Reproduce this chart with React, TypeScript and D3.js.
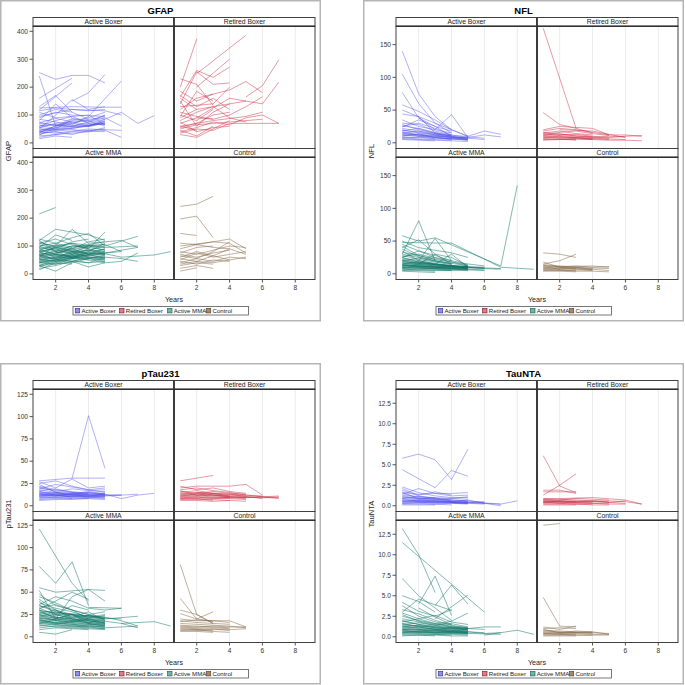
import React from "react";
import * as d3 from "d3";

// groups / legend
const groups = ["Active Boxer", "Retired Boxer", "Active MMA", "Control"];
const lineColors = ["rgb(80,80,235)", "rgb(200,30,55)", "rgb(10,115,100)", "rgb(130,100,65)"];
const lineOpacity = [0.45, 0.45, 0.5, 0.5];
const swatchFill = ["#8f8ff0", "#e07a88", "#6fb3aa", "#a58a6a"];
const swatchStroke = ["#3a3a9a", "#8a2030", "#1f6a60", "#5a4530"];
const xTicks = [2, 4, 6, 8];

// each trajectory: [year, value, year, value, ...]
const gfapActiveBoxer = [
  [1, 252, 2, 228], [1, 240, 2, 60, 3, 75], [1, 160, 3, 232], [1, 118, 3, 215],
  [2, 228, 3, 242, 4, 242, 5, 215], [3, 150, 4, 180, 5, 245], [4, 95, 6, 222],
  [4, 60, 6, 110, 7, 70, 8, 98], [5, 45, 6, 20], [1, 125, 3, 130, 5, 128, 6, 128],
  [1, 60, 2, 80, 3, 95, 4, 70, 5, 85], [1, 40, 3, 55, 5, 70], [1, 30, 2, 45, 4, 60, 5, 75],
  [1, 90, 2, 110, 3, 100, 5, 95], [1, 75, 2, 60, 3, 80, 4, 90, 5, 110], [1, 20, 2, 30, 3, 40, 5, 50],
  [1, 50, 2, 100, 3, 155, 4, 120, 5, 130], [1, 110, 2, 90, 4, 100, 5, 65], [1, 35, 2, 40, 3, 30, 4, 45, 5, 40],
  [1, 70, 3, 60, 5, 90, 6, 60], [1, 45, 2, 55, 3, 70, 4, 60, 5, 80], [1, 100, 2, 120, 3, 110, 4, 85],
  [1, 55, 2, 70, 4, 80, 5, 60], [1, 25, 3, 35, 5, 45], [1, 85, 2, 75, 3, 65, 4, 95],
  [1, 65, 2, 50, 3, 85, 4, 75, 5, 100], [1, 15, 2, 25, 3, 20], [1, 130, 2, 170, 3, 110],
  [1, 40, 2, 35, 4, 50, 6, 45], [1, 95, 3, 120, 5, 115, 6, 100], [1, 80, 2, 140, 3, 90],
  [1, 28, 2, 55, 3, 62, 4, 58, 5, 72], [1, 50, 2, 42, 3, 48, 4, 40, 5, 55], [1, 60, 2, 65, 3, 58, 5, 68],
  [1, 115, 2, 125, 4, 115, 5, 120], [1, 38, 2, 60, 3, 88, 4, 80, 5, 98], [1, 72, 2, 88, 3, 75, 4, 65, 5, 70],
  [1, 45, 2, 50, 3, 60, 4, 70, 5, 65], [1, 55, 2, 48, 3, 52, 4, 62, 5, 78], [1, 35, 2, 62, 3, 70, 4, 85, 5, 90],
];
const gfapRetiredBoxer = [
  [1, 200, 2, 372], [2, 248, 5, 386], [2, 200, 4, 300], [1, 165, 2, 260, 3, 235, 4, 272],
  [5, 165, 6, 205, 7, 298], [6, 140, 7, 218], [4, 70, 7, 70], [1, 230, 2, 210, 3, 135],
  [1, 140, 2, 255, 3, 210, 4, 215], [1, 90, 2, 120, 4, 140, 5, 150], [1, 60, 3, 80, 5, 95, 6, 110],
  [1, 45, 2, 25, 3, 60], [1, 150, 2, 60, 3, 110, 4, 140], [1, 120, 2, 160, 4, 190, 5, 220, 6, 180],
  [1, 70, 2, 90, 3, 85, 4, 100, 5, 130, 6, 165], [1, 30, 2, 20, 3, 50, 4, 80], [1, 170, 2, 130, 3, 160, 4, 120],
  [1, 55, 2, 70, 3, 100, 4, 110], [1, 100, 2, 80, 3, 120], [1, 80, 2, 110, 3, 130, 4, 90, 5, 75],
  [1, 40, 2, 55, 3, 75, 4, 65, 5, 90, 6, 100, 7, 70], [1, 185, 2, 150, 3, 175], [1, 130, 3, 140, 4, 200],
  [1, 60, 2, 45], [2, 90, 4, 160, 6, 140], [1, 50, 2, 65, 3, 70, 4, 75, 5, 80, 6, 85], [1, 110, 2, 95, 3, 85],
  [1, 75, 2, 40, 3, 55, 4, 60], [1, 160, 2, 120], [1, 35, 2, 50, 3, 45, 4, 70], [1, 95, 2, 185, 3, 150],
];
const gfapActiveMMA = [
  [1, 215, 2, 238], [1, 120, 2, 160, 3, 150, 4, 140, 5, 120], [1, 60, 2, 100, 3, 160, 4, 110],
  [5, 100, 7, 135], [4, 110, 6, 120, 7, 95], [6, 60, 8, 68, 9, 80], [5, 40, 6, 45, 7, 75],
  [1, 30, 2, 10, 3, 40], [1, 120, 2, 80, 3, 90, 4, 70, 5, 90], [1, 100, 2, 110, 3, 130, 4, 145, 5, 100],
  [1, 90, 2, 70, 3, 60, 4, 80, 5, 110], [1, 80, 2, 60, 3, 70, 4, 90, 5, 150], [1, 75, 2, 95, 3, 80, 4, 60, 5, 55],
  [1, 70, 2, 50, 3, 65, 4, 55, 5, 45], [1, 65, 2, 85, 3, 100, 4, 95, 5, 85], [1, 55, 2, 45, 3, 50, 4, 40, 5, 60],
  [1, 50, 2, 65, 3, 75, 4, 100, 5, 95], [1, 45, 2, 35, 3, 55, 4, 65, 5, 70], [1, 40, 2, 55, 3, 45, 4, 25, 5, 40],
  [1, 35, 2, 40, 3, 60, 4, 75, 5, 65], [1, 30, 2, 50, 3, 40, 4, 55, 5, 50], [1, 25, 2, 45, 3, 55, 4, 50],
  [1, 20, 2, 30, 3, 45, 4, 60], [1, 15, 2, 40, 3, 35], [1, 110, 2, 125, 3, 105, 4, 90],
  [1, 105, 2, 90, 3, 115, 4, 125], [1, 95, 2, 140, 3, 120], [1, 85, 2, 105, 3, 90, 4, 115, 5, 125],
  [1, 115, 2, 95, 3, 80, 4, 75, 5, 70], [1, 125, 2, 110, 3, 95], [1, 60, 2, 75, 3, 85, 4, 70, 5, 75, 6, 80],
  [1, 70, 2, 80, 3, 100, 5, 105, 6, 80], [1, 50, 2, 60, 3, 55, 5, 60, 6, 55, 7, 45], [1, 90, 3, 110, 5, 95, 7, 100],
  [1, 40, 3, 60, 5, 75, 7, 95], [2, 75, 4, 85, 6, 60], [1, 80, 2, 90, 3, 70, 4, 60, 5, 50],
  [1, 65, 2, 55, 3, 75, 4, 85, 5, 100], [1, 100, 2, 80, 3, 60, 4, 50, 5, 40], [1, 55, 2, 70, 3, 95, 4, 105, 5, 115],
  [1, 45, 2, 60, 3, 80, 4, 95], [1, 75, 2, 65, 3, 55, 4, 70, 5, 80],
  [1, 85, 2, 70, 3, 65, 4, 80, 5, 70], [1, 60, 2, 55, 3, 65, 4, 75, 5, 90], [1, 95, 2, 85, 3, 75, 4, 65, 5, 60],
  [1, 50, 2, 45, 3, 60, 4, 70, 5, 55], [1, 70, 2, 75, 3, 90, 4, 100, 5, 85], [1, 40, 2, 50, 3, 70, 4, 85, 5, 80],
  [1, 110, 2, 100, 3, 85, 4, 100, 5, 105], [1, 30, 2, 35, 3, 45, 4, 40, 5, 45], [1, 65, 2, 70, 3, 60, 4, 55, 5, 65],
  [1, 80, 2, 95, 3, 110, 4, 90, 5, 75],
];
const gfapControl = [
  [1, 242, 2, 250, 3, 278], [1, 197, 2, 207, 3, 130], [1, 145, 2, 138], [1, 110, 2, 105, 4, 125, 5, 90],
  [1, 100, 3, 115, 4, 110, 5, 75], [1, 20, 2, 30, 3, 20], [1, 10, 2, 22], [1, 60, 2, 80, 4, 50, 5, 60],
  [1, 90, 2, 105, 3, 95, 4, 90], [1, 80, 2, 70, 3, 85, 4, 100, 5, 95], [1, 70, 2, 60, 3, 75, 4, 85],
  [1, 50, 2, 75, 3, 60, 4, 70, 5, 80], [1, 40, 2, 55, 3, 45, 4, 60, 5, 55], [1, 35, 2, 45, 3, 40, 4, 50],
  [1, 65, 2, 55, 3, 80, 4, 115], [1, 30, 2, 40, 3, 35], [1, 55, 2, 45, 3, 65, 4, 90, 5, 70],
  [1, 75, 2, 95, 3, 100], [1, 45, 2, 35, 3, 50, 4, 45],
];

const nflActiveBoxer = [
  [1, 140, 2, 75, 3, 40, 4, 20, 5, 10], [1, 105, 2, 60, 3, 30, 4, 15], [1, 77, 2, 38, 3, 25, 4, 10],
  [1, 58, 2, 48, 3, 35, 4, 20], [1, 50, 2, 40, 3, 15, 4, 12], [2, 38, 3, 20, 4, 43, 5, 8],
  [5, 10, 6, 18, 7, 13], [5, 8, 6, 12, 7, 9], [1, 44, 2, 40, 3, 30, 4, 20, 5, 10], [1, 35, 2, 25, 3, 20, 4, 15],
  [1, 30, 2, 28, 3, 18, 4, 12, 5, 8], [1, 28, 2, 20, 3, 15, 4, 10, 5, 7], [1, 25, 2, 30, 3, 22, 4, 12],
  [1, 22, 2, 18, 3, 14, 4, 10, 5, 6], [1, 20, 2, 15, 3, 12, 4, 9, 5, 5], [1, 18, 2, 22, 3, 16, 4, 10],
  [1, 16, 2, 12, 3, 10, 4, 8, 5, 6], [1, 14, 2, 18, 3, 12, 4, 7], [1, 12, 2, 10, 3, 9, 4, 6, 5, 4],
  [1, 10, 2, 14, 3, 8, 4, 5], [1, 9, 2, 8, 3, 7, 4, 6, 5, 5], [1, 8, 2, 6, 3, 5, 4, 4], [1, 7, 2, 9, 3, 6],
  [1, 6, 2, 5, 3, 4, 4, 3, 5, 2], [1, 5, 2, 4, 3, 3], [1, 15, 2, 10, 3, 8, 4, 6, 5, 9, 6, 7],
  [1, 24, 2, 35, 3, 25, 4, 18], [1, 11, 2, 13, 3, 11, 4, 9, 5, 8], [1, 19, 2, 16, 3, 13, 4, 11, 5, 10],
  [1, 13, 3, 10, 5, 7, 6, 5], [1, 26, 2, 22, 3, 14, 4, 8, 5, 5], [1, 17, 2, 12, 3, 8, 4, 6, 5, 4],
];
const nflRetiredBoxer = [
  [1, 175, 3, 22], [1, 46, 2, 28, 3, 22, 4, 15], [1, 20, 2, 25, 4, 22, 5, 12, 6, 12, 7, 10],
  [1, 18, 2, 22, 3, 20, 4, 16, 5, 12], [1, 15, 2, 18, 3, 14, 4, 12], [1, 12, 2, 14, 3, 10, 4, 9, 5, 7],
  [1, 10, 2, 9, 3, 8, 4, 7, 5, 6, 6, 5], [1, 8, 2, 10, 3, 7, 4, 6], [1, 6, 2, 5, 3, 6, 4, 5, 5, 4, 6, 4, 7, 3],
  [1, 5, 2, 6, 3, 4], [1, 14, 2, 11, 3, 9, 4, 8, 5, 10, 6, 9], [1, 11, 2, 12, 3, 13, 4, 10, 5, 8, 6, 10, 7, 11],
  [1, 9, 2, 7, 3, 8, 4, 6, 5, 5], [1, 7, 2, 8, 3, 6, 4, 5], [1, 16, 2, 13, 3, 11, 4, 9],
  [1, 13, 2, 16, 3, 18, 4, 14, 5, 11], [1, 4, 2, 5, 3, 5], [2, 20, 4, 18, 6, 8],
];
const nflActiveMMA = [
  [1, 58, 2, 50, 3, 55, 7, 12, 8, 135], [1, 30, 2, 81, 3, 20], [1, 48, 3, 47, 4, 47, 7, 10],
  [1, 50, 2, 40, 4, 32, 5, 25], [7, 10, 9, 7], [1, 45, 2, 35, 3, 25, 4, 20], [1, 40, 2, 52, 3, 30, 4, 15],
  [1, 35, 2, 20, 3, 15, 4, 30, 5, 10], [1, 33, 2, 28, 3, 22, 4, 18, 5, 14], [1, 30, 2, 25, 3, 20, 4, 16, 5, 12],
  [1, 28, 2, 22, 3, 18, 4, 14], [1, 26, 2, 30, 3, 24, 4, 18, 5, 12], [1, 24, 2, 20, 3, 16, 4, 12, 5, 10],
  [1, 22, 2, 18, 3, 15, 4, 12, 5, 9], [1, 20, 2, 24, 3, 19, 4, 15], [1, 19, 2, 15, 3, 13, 4, 11, 5, 9],
  [1, 18, 2, 16, 3, 14, 4, 12, 5, 10, 6, 9], [1, 16, 2, 14, 3, 12, 4, 10, 5, 8], [1, 15, 2, 18, 3, 14, 4, 12, 5, 11],
  [1, 14, 2, 12, 3, 10, 4, 9, 5, 8], [1, 13, 2, 11, 3, 10, 4, 8, 5, 7, 6, 6], [1, 12, 2, 13, 3, 11, 4, 9, 5, 8],
  [1, 11, 2, 10, 3, 9, 4, 8, 5, 7], [1, 10, 2, 12, 3, 10, 4, 9, 5, 10, 6, 8], [1, 9, 2, 8, 3, 8, 4, 7, 5, 6],
  [1, 8, 2, 9, 3, 7, 4, 6], [1, 7, 2, 6, 3, 6, 4, 5, 5, 5], [1, 6, 2, 7, 3, 5, 4, 5], [1, 5, 2, 5, 3, 4],
  [1, 4, 2, 3, 3, 2], [1, 25, 2, 35, 3, 28, 4, 20, 5, 15, 6, 12], [1, 38, 2, 26, 3, 20, 4, 16],
  [1, 17, 3, 12, 5, 10, 7, 8], [1, 21, 2, 17, 3, 14, 4, 13, 5, 11, 6, 10], [1, 12, 2, 15, 3, 30, 4, 25, 5, 12],
  [1, 9, 2, 11, 3, 10, 4, 12, 5, 9, 6, 8, 7, 7], [1, 14, 2, 10, 3, 8, 4, 7, 5, 6, 6, 5], [2, 20, 3, 54, 4, 20],
  [1, 42, 2, 28, 3, 22], [1, 15, 2, 12, 3, 11, 4, 10, 5, 9], [1, 20, 2, 16, 3, 14, 4, 12, 5, 11],
  [1, 10, 2, 9, 3, 8, 4, 8, 5, 7], [1, 25, 2, 18, 3, 15, 4, 12, 5, 10],
];
const nflControl = [
  [1, 32, 2, 30, 3, 25], [1, 15, 2, 20, 3, 30], [1, 10, 4, 12, 5, 10], [1, 14, 2, 12, 3, 10, 4, 8],
  [1, 12, 2, 10, 3, 9, 4, 9, 5, 8], [1, 9, 2, 8, 3, 7, 4, 6], [1, 8, 2, 9, 3, 8, 4, 7, 5, 5],
  [1, 7, 2, 6, 3, 6, 4, 5], [1, 6, 2, 5, 3, 5], [1, 5, 2, 6, 3, 4, 4, 4, 5, 3], [1, 4, 2, 4, 3, 3],
  [1, 11, 2, 7, 3, 10, 4, 6], [1, 13, 2, 11, 3, 12, 4, 10, 5, 11], [1, 18, 2, 10, 3, 8],
];

const ptauActiveBoxer = [
  [1, 28, 3, 31, 4, 101, 5, 42], [3, 31, 5, 31], [5, 13, 6, 8, 7, 12, 8, 14], [1, 27, 2, 20, 3, 30, 4, 20, 5, 22],
  [1, 25, 2, 28, 3, 22, 4, 18, 5, 15], [1, 22, 2, 18, 3, 16, 4, 14, 5, 12], [1, 20, 2, 17, 3, 15, 4, 13, 5, 14],
  [1, 18, 2, 15, 3, 14, 4, 16, 5, 13], [1, 17, 2, 19, 3, 15, 4, 12, 5, 11], [1, 16, 2, 14, 3, 13, 4, 12, 5, 12, 6, 12],
  [1, 15, 2, 13, 3, 12, 4, 11, 5, 10], [1, 14, 2, 15, 3, 14, 4, 13, 5, 14], [1, 13, 2, 12, 3, 11, 4, 10, 5, 11],
  [1, 12, 2, 14, 3, 13, 4, 12, 5, 13], [1, 11, 2, 12, 3, 10, 4, 9, 5, 10], [1, 10, 2, 9, 3, 11, 4, 10, 5, 9],
  [1, 9, 2, 10, 3, 9, 4, 8], [1, 8, 2, 9, 3, 8, 4, 9, 5, 8], [1, 7, 2, 8, 3, 7, 4, 8, 5, 7], [1, 6, 2, 7, 3, 8],
  [1, 24, 2, 15, 3, 12, 4, 14], [1, 19, 2, 24, 3, 21, 4, 18, 5, 20], [1, 13, 2, 11, 3, 14, 4, 15, 5, 12, 6, 12],
  [1, 12, 3, 10, 5, 11, 6, 12, 7, 13], [1, 16, 2, 12, 3, 10, 4, 13], [1, 11, 2, 13, 3, 12, 4, 11, 5, 13],
  [1, 14, 2, 12, 3, 13, 4, 15, 5, 16], [1, 21, 2, 16, 3, 19, 4, 17, 5, 18], [1, 10, 2, 11, 3, 12, 4, 11, 5, 12],
];
const ptauRetiredBoxer = [
  [1, 28, 3, 34], [1, 20, 2, 22, 4, 22, 5, 24, 6, 12], [1, 8, 6, 10, 7, 8], [1, 22, 2, 18, 3, 20, 4, 16, 5, 14],
  [1, 18, 2, 20, 3, 17, 4, 15, 5, 12, 6, 11], [1, 16, 2, 14, 3, 13, 4, 12, 5, 11],
  [1, 15, 2, 17, 3, 14, 4, 13, 5, 12, 6, 10, 7, 11], [1, 14, 2, 12, 3, 11, 4, 10, 5, 9],
  [1, 13, 2, 15, 3, 12, 4, 11, 5, 10, 6, 9, 7, 10], [1, 12, 2, 11, 3, 10, 4, 9, 5, 8], [1, 11, 2, 13, 3, 12, 4, 10],
  [1, 10, 2, 9, 3, 9, 4, 8, 5, 7], [1, 9, 2, 10, 3, 8, 4, 9], [1, 8, 2, 7, 3, 7, 4, 6], [1, 7, 2, 8, 3, 6],
  [1, 6, 2, 6, 3, 5, 4, 6, 5, 5], [1, 17, 2, 12, 3, 14, 4, 11], [1, 12, 2, 14, 3, 16, 4, 14, 5, 13],
  [1, 10, 3, 12, 5, 9, 6, 10, 7, 9], [2, 15, 4, 13, 6, 8],
];
const ptauActiveMMA = [
  [1, 121, 3, 60, 4, 40], [1, 79, 2, 60, 3, 84, 4, 35], [1, 55, 2, 50, 4, 53, 5, 52], [1, 52, 2, 20, 3, 45, 4, 53, 5, 40],
  [4, 33, 6, 32], [5, 20, 7, 23], [6, 15, 8, 17, 9, 12], [5, 10, 7, 12], [1, 45, 2, 38, 3, 30, 4, 25, 5, 20],
  [1, 42, 2, 30, 3, 22, 4, 28, 5, 18], [1, 40, 2, 25, 3, 35, 4, 30], [1, 38, 2, 32, 3, 28, 4, 22, 5, 25],
  [1, 35, 2, 28, 3, 25, 4, 20, 5, 15], [1, 33, 2, 36, 3, 30, 4, 25, 5, 28], [1, 32, 2, 25, 3, 20, 4, 18, 5, 16],
  [1, 30, 2, 26, 3, 22, 4, 24, 5, 20], [1, 28, 2, 22, 3, 18, 4, 16, 5, 14], [1, 26, 2, 30, 3, 25, 4, 22, 5, 20],
  [1, 25, 2, 20, 3, 17, 4, 15, 5, 13], [1, 24, 2, 18, 3, 22, 4, 19, 5, 17], [1, 22, 2, 25, 3, 20, 4, 18, 5, 16],
  [1, 21, 2, 18, 3, 16, 4, 14, 5, 12], [1, 20, 2, 22, 3, 19, 4, 17, 5, 15], [1, 19, 2, 16, 3, 14, 4, 13, 5, 11],
  [1, 18, 2, 20, 3, 18, 4, 16, 5, 14], [1, 17, 2, 15, 3, 13, 4, 12, 5, 10], [1, 16, 2, 18, 3, 15, 4, 14, 5, 13],
  [1, 15, 2, 13, 3, 12, 4, 11, 5, 9], [1, 14, 2, 16, 3, 14, 4, 12, 5, 11], [1, 13, 2, 11, 3, 10, 4, 9, 5, 8],
  [1, 12, 2, 14, 3, 12, 4, 11], [1, 10, 2, 12, 3, 11, 4, 10, 5, 9], [1, 8, 2, 10, 3, 9, 4, 8], [1, 5, 2, 3, 3, 8],
  [1, 36, 2, 45, 3, 40, 4, 32, 5, 30, 6, 32], [1, 29, 3, 25, 5, 22, 6, 18, 7, 12], [1, 23, 2, 28, 4, 20, 6, 15, 7, 10],
  [1, 31, 2, 40, 3, 50, 4, 42], [1, 48, 2, 35, 3, 30, 4, 20], [1, 27, 2, 24, 3, 26, 4, 23, 5, 21, 6, 20],
  [1, 20, 2, 15, 3, 18, 4, 22, 5, 19], [1, 25, 2, 22, 3, 20, 4, 24, 5, 22], [1, 30, 2, 20, 3, 25, 4, 18, 5, 15],
  [1, 18, 2, 14, 3, 17, 4, 20, 5, 18], [1, 22, 2, 19, 3, 16, 4, 20, 5, 24], [1, 15, 2, 20, 3, 25, 4, 15, 5, 12],
  [1, 35, 2, 30, 3, 20, 4, 15, 5, 22],
];
const ptauControl = [
  [1, 81, 2, 25, 3, 15], [1, 43, 2, 20, 3, 28], [1, 30, 2, 25, 3, 15], [1, 20, 2, 18, 4, 18, 5, 11],
  [1, 18, 2, 16, 3, 15, 4, 14], [1, 15, 2, 14, 3, 13, 4, 12, 5, 10], [1, 13, 2, 12, 3, 11, 4, 10],
  [1, 12, 2, 11, 3, 12, 4, 11, 5, 11], [1, 11, 2, 10, 3, 10, 4, 9], [1, 10, 2, 9, 3, 8, 4, 8, 5, 9],
  [1, 9, 2, 8, 3, 9, 4, 7], [1, 8, 2, 7, 3, 7], [1, 7, 2, 8, 3, 6, 4, 5], [1, 6, 2, 6, 3, 5],
  [1, 26, 2, 20, 3, 17], [1, 17, 2, 19, 3, 18, 4, 16],
];

const tauActiveBoxer = [
  [1, 5.8, 2, 6.3, 3, 5.6, 4, 3.2, 5, 6.9], [1, 4.4, 2, 3.3, 3, 2.2, 4, 4.3, 5, 3.6],
  [1, 2.3, 2, 1.6, 3, 1.2, 4, 1.0, 5, 1.0], [1, 2.1, 2, 1.3, 3, 1.7, 4, 1.3], [1, 1.9, 2, 1.2, 3, 0.9, 4, 0.7, 5, 0.6],
  [1, 1.6, 2, 1.4, 3, 1.5, 4, 1.5, 5, 1.6], [1, 1.5, 2, 1.0, 3, 0.8, 4, 0.6], [1, 1.3, 2, 1.1, 3, 1.0, 4, 0.9, 5, 0.8],
  [1, 1.2, 2, 0.9, 3, 0.8, 4, 0.9, 5, 1.1], [1, 1.1, 2, 0.8, 3, 0.7, 4, 0.6, 5, 0.5],
  [1, 1.0, 2, 0.9, 3, 0.8, 4, 0.7, 5, 0.6, 6, 0.4], [1, 0.9, 2, 0.7, 3, 0.6, 4, 0.5, 5, 0.4],
  [1, 0.8, 2, 0.6, 3, 0.5, 4, 0.5, 5, 0.4, 6, 0.5], [1, 0.7, 2, 0.6, 3, 0.6, 4, 0.5, 5, 0.5],
  [1, 0.6, 2, 0.5, 3, 0.4, 4, 0.4, 5, 0.3], [1, 0.5, 2, 0.4, 3, 0.4, 4, 0.3, 5, 0.3],
  [1, 0.4, 2, 0.5, 3, 0.3, 4, 0.4, 5, 0.3], [1, 0.3, 2, 0.3, 3, 0.2, 4, 0.3, 5, 0.2], [1, 0.2, 2, 0.2, 3, 0.2, 4, 0.1],
  [1, 0.1, 2, 0.1, 3, 0.1], [5, 0.5, 7, 0.2, 8, 0.6], [4, 0.4, 6, 0.3, 7, 0.0], [1, 0.6, 3, 0.5, 5, 0.4, 6, 0.3, 7, 0.2],
  [1, 1.4, 2, 2.1, 3, 1.5, 4, 1.2, 5, 1.3], [1, 0.9, 2, 1.1, 3, 0.9, 4, 0.7],
  [1, 0.5, 2, 0.7, 3, 0.6, 4, 0.5, 5, 0.7, 6, 0.3], [1, 0.3, 2, 0.4, 3, 0.5, 4, 0.4, 5, 0.3, 6, 0.2], [1, 1.7, 2, 0.8, 3, 1.0],
];
const tauRetiredBoxer = [
  [1, 6.1, 2, 2.4, 3, 1.6], [1, 1.3, 2, 2.5, 3, 3.9], [1, 1.9, 2, 1.9, 3, 1.5], [1, 1.7, 3, 1.7],
  [1, 0.8, 4, 1.0, 6, 0.7, 7, 0.2], [1, 0.9, 2, 0.8, 3, 0.7, 4, 0.6, 5, 0.5], [1, 0.7, 2, 0.6, 3, 0.6, 4, 0.5, 5, 0.4, 6, 0.3],
  [1, 0.6, 2, 0.5, 3, 0.4, 4, 0.4], [1, 0.5, 2, 0.5, 3, 0.4, 4, 0.3, 5, 0.3], [1, 0.4, 2, 0.4, 3, 0.3, 4, 0.3, 5, 0.2, 6, 0.2],
  [1, 0.3, 2, 0.3, 3, 0.2, 4, 0.2], [1, 0.2, 2, 0.2, 3, 0.2, 4, 0.1, 5, 0.1], [1, 0.1, 2, 0.1, 3, 0.1],
  [1, 0.6, 3, 0.5, 5, 0.6, 6, 0.5, 7, 0.2], [1, 0.8, 2, 0.7, 3, 0.9, 4, 0.8, 5, 0.7],
  [1, 0.5, 2, 0.3, 3, 0.5, 4, 0.6, 5, 0.4, 6, 0.6], [1, 0.4, 2, 0.6, 3, 0.5],
];
const tauActiveMMA = [
  [1, 13.2, 2, 10.0, 3, 5.4], [1, 11.5, 6, 3.0], [1, 7.1, 2, 5.0, 3, 3.5, 4, 2.0], [2, 4.0, 3, 7.4, 4, 2.6],
  [3, 3.8, 4, 6.3, 5, 4.0], [3, 2.2, 5, 5.1], [1, 5.0, 2, 4.3, 3, 3.0], [6, 0.2, 8, 0.8, 9, 0.3],
  [1, 4.2, 2, 3.1, 3, 2.5, 4, 3.3], [1, 3.8, 2, 2.5, 3, 1.8, 4, 1.5], [1, 3.3, 2, 2.8, 3, 2.0, 4, 1.4, 5, 1.1],
  [1, 2.9, 2, 2.2, 3, 2.6, 4, 1.8, 5, 1.5], [1, 2.5, 2, 2.0, 3, 1.6, 4, 1.2, 5, 1.0], [1, 2.2, 2, 1.8, 3, 1.4, 4, 1.6, 5, 1.2],
  [1, 2.0, 2, 1.5, 3, 1.2, 4, 1.0, 5, 0.9], [1, 1.8, 2, 2.2, 3, 1.6, 4, 1.3, 5, 1.1], [1, 1.6, 2, 1.3, 3, 1.1, 4, 0.9, 5, 0.8],
  [1, 1.5, 2, 1.7, 3, 1.4, 4, 1.2, 5, 1.0, 6, 0.9], [1, 1.3, 2, 1.1, 3, 1.0, 4, 0.8, 5, 0.7],
  [1, 1.2, 2, 1.4, 3, 1.1, 4, 1.0, 5, 0.9], [1, 1.1, 2, 0.9, 3, 0.8, 4, 0.7, 5, 0.6, 6, 0.5],
  [1, 1.0, 2, 1.2, 3, 0.9, 4, 0.8, 5, 0.7], [1, 0.9, 2, 0.8, 3, 0.7, 4, 0.6, 5, 0.5], [1, 0.8, 2, 0.9, 3, 0.8, 4, 0.7, 5, 0.6],
  [1, 0.7, 2, 0.6, 3, 0.5, 4, 0.5, 5, 0.4], [1, 0.6, 2, 0.7, 3, 0.6, 4, 0.5, 5, 0.5], [1, 0.5, 2, 0.5, 3, 0.4, 4, 0.4, 5, 0.3],
  [1, 0.4, 2, 0.3, 3, 0.3, 4, 0.2], [1, 0.3, 2, 0.4, 3, 0.3, 4, 0.3, 5, 0.2], [1, 0.2, 2, 0.2, 3, 0.1],
  [1, 0.1, 2, 0.2, 3, 0.2, 4, 0.1, 5, 0.1], [1, 3.0, 2, 4.6, 3, 3.9, 4, 3.2], [1, 1.4, 3, 1.2, 5, 1.0, 6, 1.2, 7, 1.2],
  [1, 0.9, 3, 0.7, 5, 0.6, 6, 0.4, 7, 0.5], [1, 2.7, 2, 1.9, 3, 1.5, 4, 1.9, 5, 2.9], [1, 0.6, 3, 0.5, 5, 0.4, 7, 0.3],
  [1, 1.9, 2, 1.5, 3, 1.3, 4, 1.1, 5, 1.0], [2, 3.5, 3, 2.4, 4, 1.5],
  [1, 1.2, 2, 1.0, 3, 0.9, 4, 1.1, 5, 0.8], [1, 0.8, 2, 0.6, 3, 0.7, 4, 0.6, 5, 0.5],
  [1, 1.6, 2, 1.2, 3, 0.9, 4, 0.8, 5, 0.9], [1, 0.5, 2, 0.6, 3, 0.5, 4, 0.6, 5, 0.4],
];
const tauControl = [
  [1, 13.6, 2, 13.8], [1, 4.8, 2, 1.3, 3, 1.2], [1, 1.2, 2, 0.9, 3, 1.3], [1, 0.4, 4, 0.6, 5, 0.3],
  [1, 1.0, 2, 1.1, 3, 1.0], [1, 0.8, 2, 0.7, 3, 0.6, 4, 0.5], [1, 0.7, 2, 0.6, 3, 0.5, 4, 0.5, 5, 0.4],
  [1, 0.6, 2, 0.5, 3, 0.5, 4, 0.4], [1, 0.5, 2, 0.4, 3, 0.4, 4, 0.3, 5, 0.3], [1, 0.4, 2, 0.3, 3, 0.3],
  [1, 0.3, 2, 0.3, 3, 0.2, 4, 0.2], [1, 0.2, 2, 0.2, 3, 0.2, 4, 0.2, 5, 0.2], [1, 0.1, 2, 0.1, 3, 0.1],
  [1, 0.9, 2, 0.5, 3, 0.7, 4, 0.6],
];

const gfapTicks = [0, 100, 200, 300, 400];
const nflTicks = [0, 50, 100, 150];
const ptauTicks = [0, 25, 50, 75, 100, 125];
const tauTicks = [0, 2.5, 5, 7.5, 10, 12.5];

const panels = [
  { title: "GFAP", domain: [-20, 418], ticks: gfapTicks, fmt: d3.format("d"), series: [gfapActiveBoxer, gfapRetiredBoxer, gfapActiveMMA, gfapControl] },
  { title: "NFL", domain: [-8.7, 178], ticks: nflTicks, fmt: d3.format("d"), series: [nflActiveBoxer, nflRetiredBoxer, nflActiveMMA, nflControl] },
  { title: "pTau231", domain: [-6.4, 130.6], ticks: ptauTicks, fmt: d3.format("d"), series: [ptauActiveBoxer, ptauRetiredBoxer, ptauActiveMMA, ptauControl] },
  { title: "TauNTA", domain: [-0.7, 14.2], ticks: tauTicks, fmt: d3.format(".1f"), series: [tauActiveBoxer, tauRetiredBoxer, tauActiveMMA, tauControl] },
];

const origins = [[0, 0], [363, 0], [0, 363], [363, 363]];
const font = "'Liberation Sans', Arial, sans-serif";
const L = 33, FW = 141, HH = 8.8, PH = 122.2;
const rowTop = [17.5, 148.5];
const legendX = [0, 44.3, 92.3, 131];

const x = d3.scaleLinear().domain([0.62, 9.2]).range([0, FW]);

function toPts(t: number[]): [number, number][] {
  const p: [number, number][] = [];
  for (let i = 0; i < t.length; i += 2) p.push([t[i], t[i + 1]]);
  return p;
}

function Panel({ p, ox, oy }: any) {
  const y = d3.scaleLinear().domain(p.domain).range([PH, 0]);
  const line = d3.line<[number, number]>().x((d) => x(d[0])).y((d) => y(d[1]));
  return (
    <g transform={`translate(${ox},${oy})`} fontFamily={font}>
      <rect x={0.75} y={0.75} width={319.5} height={320} fill="#fff" stroke="#b5b5b5" strokeWidth={1.5} />
      <text x={160.5} y={13.5} textAnchor="middle" fontSize={9.5} fontWeight="bold" fill="#000">{p.title}</text>
      {groups.map((g, i) => {
        const col = i % 2, row = Math.floor(i / 2);
        const fx = L + col * FW, fy = rowTop[row] + HH;
        return (
          <g key={g}>
            <g transform={`translate(${fx},${fy})`}>
              {xTicks.map((t) => (
                <line key={t} x1={x(t)} x2={x(t)} y1={0} y2={PH} stroke="#ebebeb" strokeWidth={1} />
              ))}
              {p.series[i].map((t: number[], k: number) => (
                <path key={k} d={line(toPts(t)) || ""} fill="none" stroke={lineColors[i]} strokeOpacity={lineOpacity[i]} strokeWidth={1} />
              ))}
              <rect x={0} y={0} width={FW} height={PH} fill="none" stroke="#404040" strokeWidth={1} />
            </g>
            <rect x={fx} y={rowTop[row]} width={FW} height={HH} fill="#fff" stroke="#404040" strokeWidth={1} />
            <text x={fx + FW / 2} y={rowTop[row] + 6.6} textAnchor="middle" fontSize={6.8} fill="#222">{g}</text>
            {col === 0 &&
              p.ticks.map((t: number) => (
                <g key={t}>
                  <line x1={L - 3.5} x2={L} y1={fy + y(t)} y2={fy + y(t)} stroke="#555" />
                  <text x={L - 5} y={fy + y(t) + 2.3} textAnchor="end" fontSize={6.6} fill="#333">{p.fmt(t)}</text>
                </g>
              ))}
            {row === 1 &&
              xTicks.map((t) => (
                <g key={t}>
                  <line x1={fx + x(t)} x2={fx + x(t)} y1={fy + PH} y2={fy + PH + 3} stroke="#555" />
                  <text x={fx + x(t)} y={fy + PH + 10.5} textAnchor="middle" fontSize={6.6} fill="#333">{t}</text>
                </g>
              ))}
          </g>
        );
      })}
      {[rowTop[0] + HH, rowTop[1] + HH].map((yy) => (
        <line key={yy} x1={L} x2={L + 2 * FW} y1={yy} y2={yy} stroke="#303030" strokeWidth={1.4} />
      ))}
      <line x1={L + FW} x2={L + FW} y1={rowTop[0]} y2={rowTop[1] + HH + PH} stroke="#303030" strokeWidth={1.6} />
      <text transform={`translate(11,151) rotate(-90)`} textAnchor="middle" fontSize={7.6} fill="#222">{p.title}</text>
      <text x={L + FW} y={301.5} textAnchor="middle" fontSize={7.2} fill="#222">Years</text>
      <g transform="translate(73,306.5)">
        <rect x={0} y={0} width={175.5} height={8.5} fill="#fff" stroke="#555" strokeWidth={0.8} />
        {groups.map((g, i) => (
          <g key={g} transform={`translate(${legendX[i] + 2.3},0)`}>
            <rect x={0} y={2} width={4.4} height={4.4} fill={swatchFill[i]} stroke={swatchStroke[i]} strokeWidth={0.7} />
            <text x={6.2} y={6.6} fontSize={6.1} fill="#222">{g}</text>
          </g>
        ))}
      </g>
    </g>
  );
}

export default function App() {
  return (
    <svg width={685} height={685} style={{ position: "absolute", left: 0, top: 0, background: "#fff" }}>
      {panels.map((p, i) => (
        <Panel key={p.title} p={p} ox={origins[i][0]} oy={origins[i][1]} />
      ))}
    </svg>
  );
}
